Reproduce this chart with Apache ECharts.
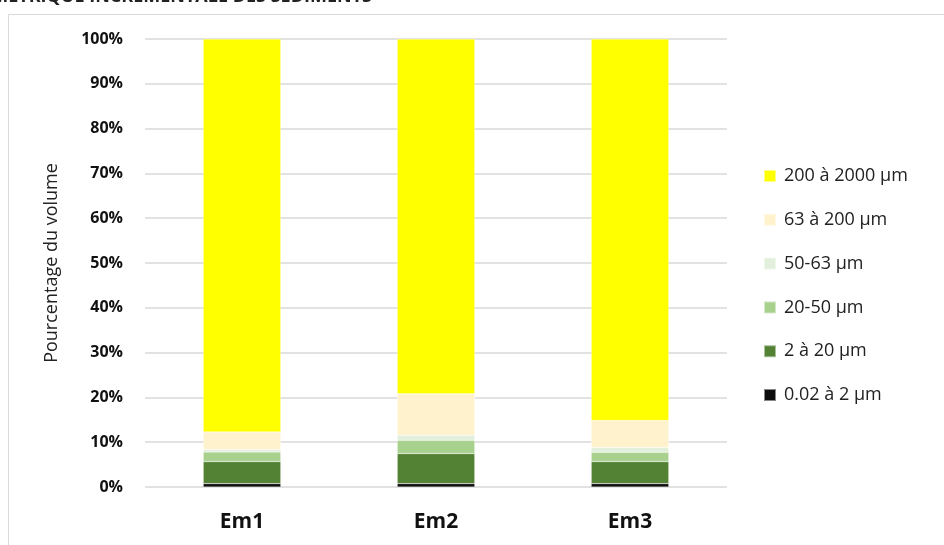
<!DOCTYPE html>
<html>
<head>
<meta charset="utf-8">
<script src="https://cdn.jsdelivr.net/npm/echarts@6/dist/echarts.min.js"></script>
<style>html,body{margin:0;padding:0;background:#fff}#c{width:944px;height:545px}</style>
</head>
<body>
<div id="c"></div>
<script>
var categories = ['Em1', 'Em2', 'Em3'];
var seriesNames = ['0.02 à 2 µm', '2 à 20 µm', '20-50 µm', '50-63 µm', '63 à 200 µm', '200 à 2000 µm'];
var clay = [0.76, 0.76, 0.76];
var fineSilt = [4.92, 6.7, 4.92];
var coarseSilt = [2.15, 2.98, 2.08];
var veryFineSand = [0.54, 1.12, 1.05];
var fineSand = [3.93, 9.23, 6.03];
var coarseSand = [87.7, 79.21, 85.16];
var yTicks = [0, 10, 20, 30, 40, 50, 60, 70, 80, 90, 100];

var colors = ['#0D0D0D', '#548235', '#A9D18E', '#E2EFDA', '#FFF2CC', '#FFFF00'];
var dataSets = [clay, fineSilt, coarseSilt, veryFineSand, fineSand, coarseSand];
var font = '"Open Sans", "Noto Sans", sans-serif';

var series = dataSets.map(function (d, i) {
  return {
    name: seriesNames[i],
    type: 'bar',
    stack: 'total',
    barWidth: '40%',
    data: d,
    itemStyle: { color: colors[i], borderColor: 'rgba(255,255,255,0.5)', borderWidth: 0.5 },
    emphasis: { disabled: true }
  };
});

var chart = echarts.init(document.getElementById('c'), null, { renderer: 'canvas' });
chart.setOption({
  animation: false,
  backgroundColor: '#fff',
  graphic: [
    { type: 'rect', shape: { x: 8.5, y: 14.5, width: 960, height: 560 }, style: { fill: 'none', stroke: '#D9D9D9', lineWidth: 1 }, silent: true },
    { type: 'text', x: 372, y: -12, style: { text: 'COURBE GRANULOMETRIQUE INCREMENTALE DES SEDIMENTS', textAlign: 'right', fill: '#222', font: 'bold 18px ' + font } , silent: true }
  ],
  grid: { left: 145, right: 217, top: 39, bottom: 58, containLabel: false },
  legend: {
    orient: 'vertical',
    left: 763,
    top: 167,
    padding: 0,
    itemWidth: 12,
    itemHeight: 12,
    itemGap: 25.8,
    icon: 'rect',
    data: seriesNames.slice().reverse(),
    textStyle: { fontFamily: font, fontSize: 18, color: '#222', padding: [0, 0, 0, 3] },
    selectedMode: false
  },
  xAxis: {
    type: 'category',
    data: categories,
    axisLine: { show: false },
    axisTick: { show: false },
    axisLabel: { fontFamily: font, fontWeight: 'bold', fontSize: 21, color: '#111', margin: 25 }
  },
  yAxis: {
    type: 'value',
    min: 0,
    max: 100,
    interval: 10,
    name: 'Pourcentage du volume',
    nameLocation: 'middle',
    nameGap: 84,
    nameTextStyle: { fontFamily: font, fontSize: 18, color: '#222' },
    axisLine: { show: false },
    axisTick: { show: false },
    splitLine: { lineStyle: { color: '#D9D9D9', width: 1.5 } },
    axisLabel: {
      fontFamily: font, fontWeight: 'bold', fontSize: 16, color: '#111', margin: 22,
      formatter: function (v) { return yTicks.indexOf(v) >= 0 ? v + '%' : ''; }
    }
  },
  series: series
});
</script>
</body>
</html>
